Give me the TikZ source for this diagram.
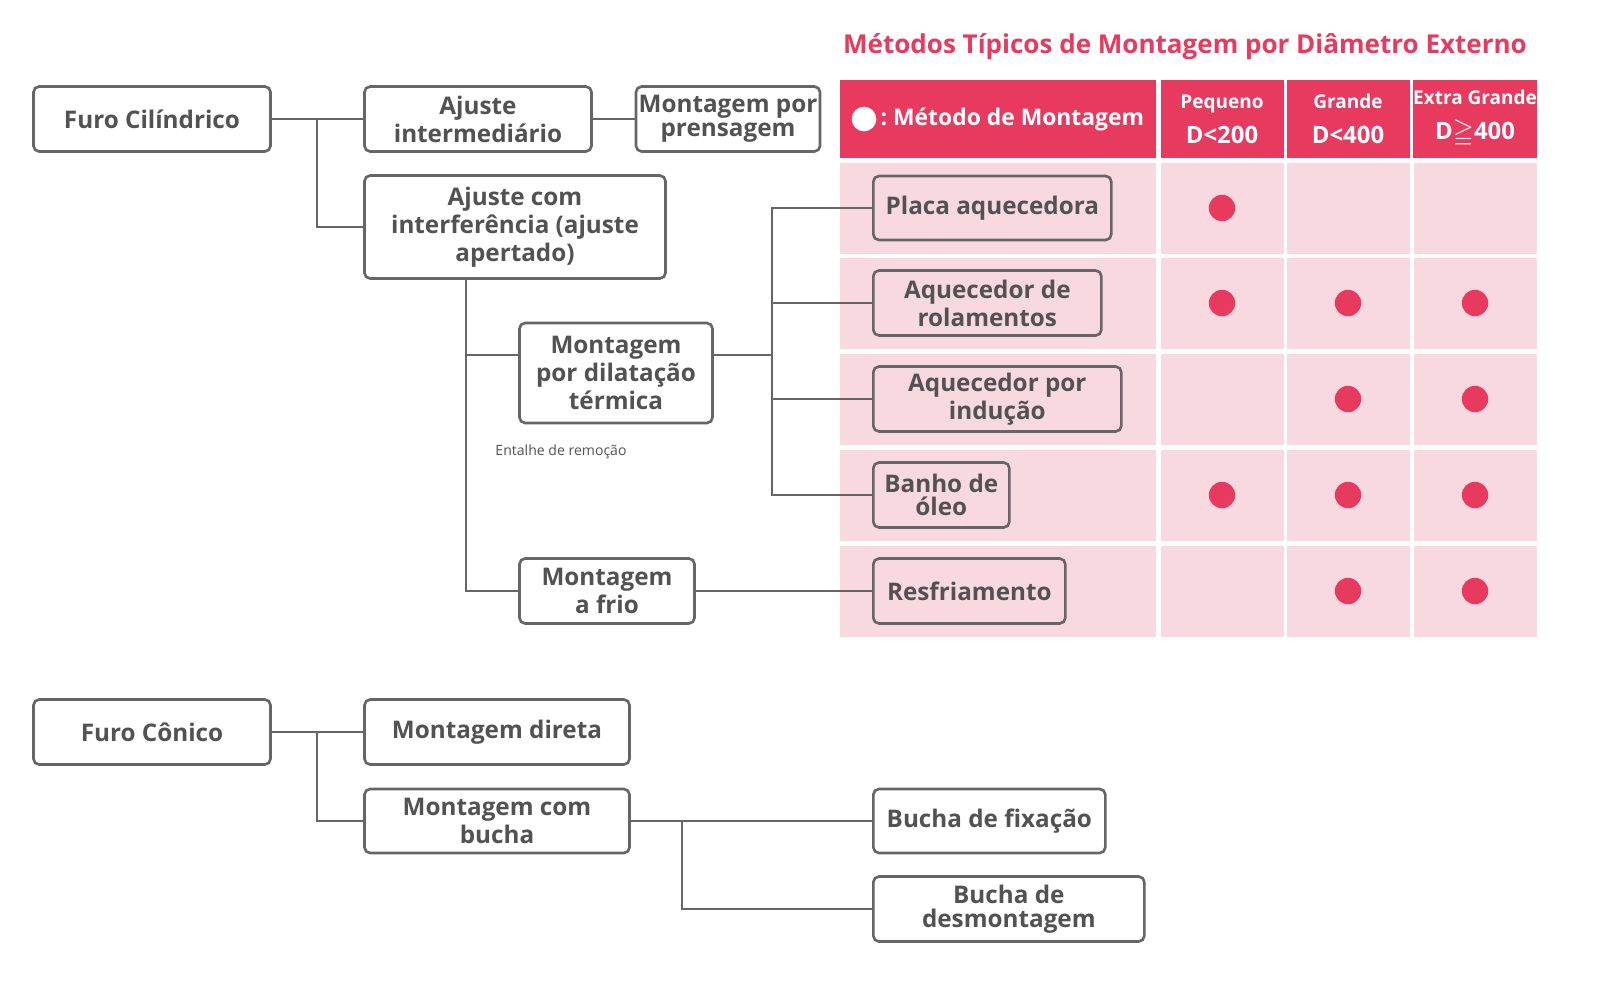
\documentclass[tikz,border=0pt]{standalone}
\usepackage{amssymb}
\usepackage{fontspec}
\setmainfont{Open Sans}
\definecolor{rosa}{HTML}{E83A5F}
\definecolor{rosaclaro}{HTML}{F9D9E0}
\definecolor{cinza}{HTML}{666666}
\tikzset{
  caixa/.style={draw=cinza, line width=0.75pt, rounded corners=1.6pt, align=center,
    inner sep=0pt, text=cinza!80!black, font=\fontsize{6.9}{6.7}\selectfont\bfseries},
  liga/.style={draw=cinza, line width=0.75pt},
  cab/.style={fill=rosa, text=white, align=center, inner sep=0pt,
    font=\fontsize{5.4}{9}\selectfont\bfseries},
  celula/.style={fill=rosaclaro, inner sep=0pt},
  ponto/.style={circle, fill=rosa, minimum size=7.5pt, inner sep=0pt}
}
\begin{document}
\begin{tikzpicture}[x=0.01cm, y=-0.01cm]
% tabela
\node[font=\fontsize{7.4}{9}\selectfont\bfseries, text=rosa] (titulo) at (1185,47) {Métodos Típicos de Montagem por Diâmetro Externo};
\node[cab, minimum width=316*0.01cm, minimum height=78*0.01cm] (h1) at (998,119) {};
\node[circle, fill=white, minimum size=7pt, inner sep=0pt] (hp) at (864,119) {};
\node[cab, anchor=west, font=\fontsize{6.5}{9}\selectfont\bfseries] (ht) at (880,119) {:\ Método de Montagem};
\foreach \n/\x/\t/\d in {h2/1222/Pequeno/D<200, h3/1348/Grande/D<400, h4/1475/Extra Grande/D$\geqq$400}
  \node[cab, minimum width=123*0.01cm, minimum height=78*0.01cm] (\n) at (\x,119)
    {\t\\[1pt]{\fontsize{6.8}{9}\selectfont\d}};
\foreach \y [count=\i] in {208,303,399,495,591}
  \foreach \x/\w [count=\j] in {998/316, 1222/123, 1348/123, 1475/123}
    \node[celula, minimum width=\w*0.01cm, minimum height=91*0.01cm] (c\i\j) at (\x,\y) {};
\foreach \i/\j in {1/2, 2/2, 2/3, 2/4, 3/3, 3/4, 4/2, 4/3, 4/4, 5/3, 5/4}
  \node[ponto] at (c\i\j) {};
% furo cilindrico
\node[caixa, minimum width=237*0.01cm, minimum height=65*0.01cm] (fc) at (152,119) {Furo Cilíndrico};
\node[caixa, minimum width=227*0.01cm, minimum height=65*0.01cm] (ai) at (478,119) {Ajuste\\intermediário};
\node[caixa, minimum width=184*0.01cm, minimum height=65*0.01cm] (mp) at (728,119) {Montagem por\\prensagem};
\node[caixa, minimum width=301*0.01cm, minimum height=103*0.01cm] (ac) at (515,227) {Ajuste com\\interferência (ajuste\\apertado)};
\node[caixa, minimum width=193*0.01cm, minimum height=100*0.01cm] (md) at (616,373) {Montagem\\por dilatação\\térmica};
\node[caixa, minimum width=175*0.01cm, minimum height=65*0.01cm] (mf) at (607,591) {Montagem\\a frio};
\node[caixa, anchor=west, minimum width=238*0.01cm, minimum height=64*0.01cm] (pa) at (872,208) {Placa aquecedora};
\node[caixa, anchor=west, minimum width=228*0.01cm, minimum height=65*0.01cm] (ar) at (872,303) {Aquecedor de\\rolamentos};
\node[caixa, anchor=west, minimum width=248*0.01cm, minimum height=65*0.01cm] (ain) at (872,399) {Aquecedor por\\indução};
\node[caixa, anchor=west, minimum width=136*0.01cm, minimum height=65*0.01cm] (bo) at (872,495) {Banho de\\óleo};
\node[caixa, anchor=west, minimum width=192*0.01cm, minimum height=65*0.01cm] (rf) at (872,591) {Resfriamento};
\node[font=\fontsize{4}{5}\selectfont, text=cinza!80!black] (er) at (561,452) {Entalhe de remoção};
% furo conico
\node[caixa, minimum width=237*0.01cm, minimum height=65*0.01cm] (fk) at (152,732) {Furo Cônico};
\node[caixa, minimum width=265*0.01cm, minimum height=65*0.01cm] (mdi) at (497,732) {Montagem direta};
\node[caixa, minimum width=265*0.01cm, minimum height=64*0.01cm] (mb) at (497,821) {Montagem com\\bucha};
\node[caixa, anchor=west, minimum width=232*0.01cm, minimum height=64*0.01cm] (bf) at (872,821) {Bucha de fixação};
\node[caixa, anchor=west, minimum width=271*0.01cm, minimum height=65*0.01cm] (bd) at (872,909) {Bucha de\\desmontagem};
% ligacoes
\coordinate (r1) at (317,119);
\coordinate (r2) at (466,279);
\coordinate (r3) at (772,355);
\coordinate (r4) at (317,732);
\coordinate (r5) at (682,821);
\draw[liga] (fc) -- (ai);
\draw[liga] (r1) |- (ac.west);
\draw[liga] (ai) -- (mp);
\draw[liga] (r2) |- (md.west |- r3);
\draw[liga] (r2) |- (mf.west);
\draw[liga] (md.east |- r3) -- (r3);
\foreach \n in {pa, ar, ain, bo}
  \draw[liga] (r3) |- (\n.west);
\draw[liga] (mf) -- (rf);
\draw[liga] (fk) -- (mdi);
\draw[liga] (r4) |- (mb.west);
\draw[liga] (mb) -- (bf);
\draw[liga] (r5) |- (bd.west);
\pgfresetboundingbox
\useasboundingbox (0,0) rectangle (1600,987);
\end{tikzpicture}
\end{document}
